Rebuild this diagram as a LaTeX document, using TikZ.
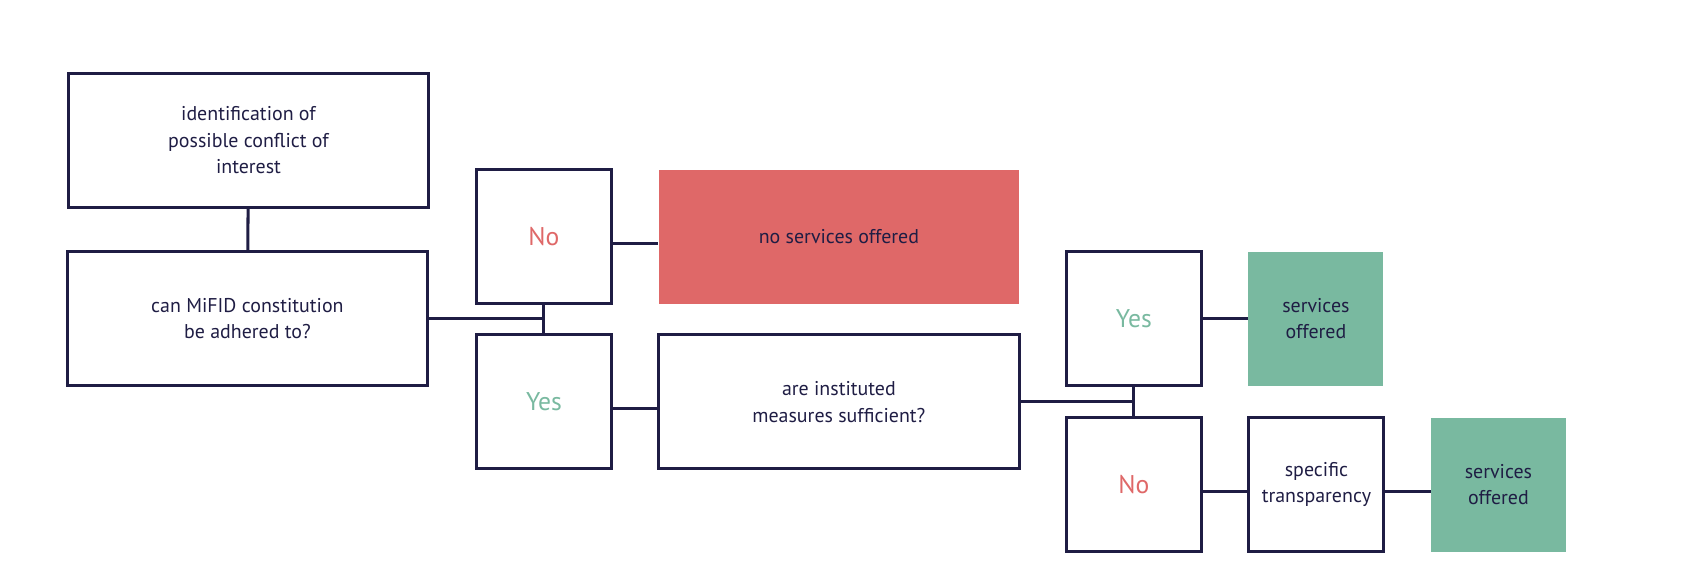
\documentclass[tikz,border=0pt]{standalone}
\usepackage{fontspec}
\setmainfont{PT Sans}
\definecolor{navy}{HTML}{1F1D44}
\definecolor{nored}{HTML}{DF6868}
\definecolor{yesgreen}{HTML}{79B9A0}
\tikzstyle{wide}=[draw=navy,line width=1.6pt,minimum width=6.68cm,minimum height=2.48cm,align=center,text=navy,inner sep=0pt]
\tikzstyle{small}=[draw=navy,line width=1.6pt,minimum width=2.5cm,minimum height=2.48cm,align=center,text=navy,inner sep=0pt]
\tikzstyle{answer}=[small,font=\fontsize{13.5}{16}\selectfont]
\tikzstyle{widefill}=[fill=nored,minimum width=6.68cm,minimum height=2.48cm,align=center,text=navy,inner sep=0pt]
\tikzstyle{smallfill}=[fill=yesgreen,minimum width=2.5cm,minimum height=2.48cm,align=center,text=navy,inner sep=0pt]
\tikzstyle{link}=[-,draw=navy,line width=1.6pt]
\begin{document}
\begin{tikzpicture}[x=0.02cm,y=-0.02cm,font=\fontsize{10.5}{14}\selectfont]
	\useasboundingbox (0,0) rectangle (1568,544);
	\node [style=wide] (0) at (230, 130) {identification of\\possible conflict of\\interest};
	\node [style=wide] (1) at (229, 295) {can MiFID constitution\\be adhered to?};
	\node [style=answer, text=nored] (2) at (503.5, 218.5) {No};
	\node [style=widefill] (3) at (776.5, 219) {no services offered};
	\node [style=answer, text=yesgreen] (4) at (503.5, 372) {Yes};
	\node [style=wide] (5) at (776.5, 372) {are instituted\\measures sufficient?};
	\node [style=answer, text=yesgreen] (6) at (1049.5, 295) {Yes};
	\node [style=smallfill] (7) at (1218, 295) {services\\offered};
	\node [style=answer, text=nored] (8) at (1049.5, 448.5) {No};
	\node [style=small] (9) at (1218.5, 448.5) {specific\\transparency};
	\node [style=smallfill] (10) at (1387, 448.5) {services\\offered};
	\coordinate (11) at (503, 295);
	\coordinate (12) at (1049, 372);
	\draw [style=link] (0) to (1);
	\draw [style=link] (1.east) to (11);
	\draw [style=link] (2.south) to (4.north);
	\draw [style=link] (2.east |- 0,225) to (3.west |- 0,225);
	\draw [style=link] (4.east |- 0,378) to (5.west |- 0,378);
	\draw [style=link] (5.east) to (12);
	\draw [style=link] (6.south) to (8.north);
	\draw [style=link] (6.east) to (7.west);
	\draw [style=link] (8.east |- 0,455) to (9.west |- 0,455);
	\draw [style=link] (9.east |- 0,455) to (10.west |- 0,455);
\end{tikzpicture}
\end{document}
